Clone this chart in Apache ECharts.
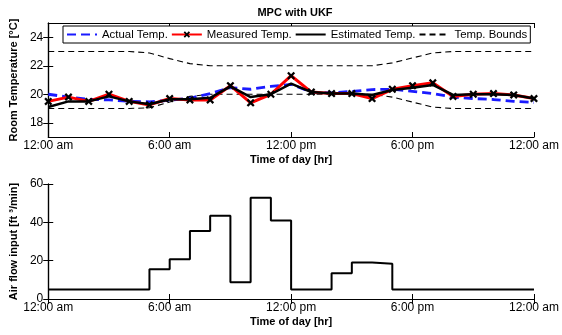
<!DOCTYPE html>
<html>
<head>
<meta charset="utf-8">
<script src="https://cdn.jsdelivr.net/npm/echarts@6/dist/echarts.min.js"></script>
<style>
  html, body { margin: 0; padding: 0; background: #fff; }
  #chart { width: 562px; height: 335px; }
</style>
</head>
<body>
<div id="chart"></div>
<script>
// hour of day, 0 = midnight
const hours = [0, 1, 2, 3, 4, 5, 6, 7, 8, 9, 10, 11, 12, 13, 14, 15, 16, 17, 18, 19, 20, 21, 22, 23, 24];
const timeTicks = [0, 6, 12, 18, 24];
const timeLabels = ["12:00 am", "6:00 am", "12:00 pm", "6:00 pm", "12:00 am"];

const actualTemp = [20.0, 19.8, 19.65, 19.6, 19.5, 19.47, 19.58, 19.72, 20.05, 20.47, 20.35, 20.55, 20.7,
  20.15, 20.1, 20.2, 20.33, 20.35, 20.2, 20.05, 19.8, 19.7, 19.63, 19.5, 19.42];
const measuredTemp = [19.5, 19.8, 19.5, 20.0, 19.5, 19.25, 19.7, 19.6, 19.6, 20.6, 19.4, 20.0, 21.3,
  20.15, 20.05, 20.05, 19.7, 20.35, 20.6, 20.8, 19.85, 20.0, 20.05, 19.95, 19.7];
const estimatedTemp = [19.1, 19.5, 19.5, 19.85, 19.5, 19.3, 19.65, 19.65, 19.75, 20.55, 19.8, 20.0, 20.75,
  20.15, 20.05, 20.05, 19.95, 20.3, 20.45, 20.65, 19.95, 20.0, 20.0, 19.95, 19.7];
const upperBound = [23, 23, 23, 23, 23, 22.9, 22.5, 22.15, 22, 22, 22, 22, 22,
  22, 22, 22, 22, 22.2, 22.55, 22.9, 23, 23, 23, 23, 23];
const lowerBound = [19, 19, 19, 19, 19, 19.05, 19.45, 19.85, 20, 20, 20, 20, 20,
  20, 20, 20, 20, 19.8, 19.45, 19.1, 19, 19, 19, 19, 19];
// air flow held over each hour [h, h+1), last value repeated to close the step at 24
const airFlow = [5, 5, 5, 5, 5, 15.5, 20.8, 35.5, 43.5, 8.8, 52.8, 41, 5,
  5, 13.5, 19, 18.4, 5, 5, 5, 5, 5, 5, 5, 5];

const tempTicks = [18, 20, 22, 24];
const flowTicks = [0, 20, 40, 60];

const font = "Liberation Sans, Arial, Helvetica, sans-serif";
const xMark = "path://M0,2L2,0L5,3L8,0L10,2L7,5L10,8L8,10L5,7L2,10L0,8L3,5Z";

const pairs = (vals) => hours.map((h, i) => [h, vals[i]]);

const timeLabel = (v) => {
  const i = timeTicks.indexOf(v);
  return i >= 0 ? timeLabels[i] : "";
};

function xAxes(gridIndex) {
  const base = {
    gridIndex: gridIndex,
    type: "value",
    min: 0,
    max: 24,
    interval: 6,
    axisLine: { show: true, lineStyle: { color: "#000", width: 1.2 } },
    axisTick: { show: true, inside: true, length: 5, lineStyle: { color: "#000" } },
    splitLine: { show: false },
  };
  return [
    Object.assign({}, base, {
      position: "bottom",
      name: "Time of day [hr]",
      nameLocation: "middle",
      nameGap: 17,
      nameTextStyle: { fontFamily: font, fontSize: 11, fontWeight: "bold", color: "#000" },
      axisLabel: { formatter: timeLabel, fontFamily: font, fontSize: 12, color: "#000", margin: 3, showMinLabel: true, showMaxLabel: true },
    }),
    Object.assign({}, base, { position: "top", axisLabel: { show: false } }),
  ];
}

function yAxes(gridIndex, min, max, ticks, name) {
  const base = {
    gridIndex: gridIndex,
    type: "value",
    min: min,
    max: max,
    axisLine: { show: true, lineStyle: { color: "#000", width: 1.2 } },
    axisTick: { show: true, inside: true, length: 5, customValues: ticks, lineStyle: { color: "#000" } },
    splitLine: { show: false },
  };
  return [
    Object.assign({}, base, {
      position: "left",
      name: name,
      nameLocation: "middle",
      nameGap: 23,
      nameTextStyle: { fontFamily: font, fontSize: 11, fontWeight: "bold", color: "#000" },
      axisLabel: { customValues: ticks, fontFamily: font, fontSize: 12, color: "#000", margin: 5 },
    }),
    Object.assign({}, base, { position: "right", axisLabel: { show: false } }),
  ];
}

const chart = echarts.init(document.getElementById("chart"));

const noMark = { opacity: 0 };

chart.setOption({
  animation: false,
  backgroundColor: "#fff",
  title: {
    text: "MPC with UKF",
    left: 290,
    textAlign: "center",
    top: 2,
    textStyle: { fontFamily: font, fontSize: 11, fontWeight: "bold", color: "#000" },
  },
  legend: {
    left: 63,
    top: 26,
    padding: [3, 3],
    itemGap: 3,
    itemWidth: 30,
    itemHeight: 8,
    borderColor: "#000",
    borderWidth: 1,
    backgroundColor: "#fff",
    textStyle: { fontFamily: font, fontSize: 11.4, color: "#000" },
    data: [
      { name: "Actual Temp.", itemStyle: noMark },
      { name: "Measured Temp." },
      { name: "Estimated Temp.", itemStyle: noMark },
      { name: "Temp. Bounds", itemStyle: noMark },
    ],
  },
  grid: [
    { left: 42, right: 25, top: 23, height: 114 },
    { left: 42, right: 25, top: 184, height: 115 },
  ],
  xAxis: xAxes(0).concat(xAxes(1)),
  yAxis: yAxes(0, 17, 25, tempTicks, "Room Temperature [°C]")
    .concat(yAxes(1, 0, 60, flowTicks, "Air flow input [ft ³/min]")),
  series: [
    {
      name: "Actual Temp.",
      type: "line",
      xAxisIndex: 0,
      yAxisIndex: 0,
      data: pairs(actualTemp),
      showSymbol: false,
      symbol: "none",
      z: 2,
      lineStyle: { color: "#1a1aff", width: 2.8, type: [9, 5] },
      itemStyle: { color: "#1a1aff" },
    },
    {
      name: "Measured Temp.",
      type: "line",
      xAxisIndex: 0,
      yAxisIndex: 0,
      data: pairs(measuredTemp),
      symbol: xMark,
      symbolSize: 8,
      z: 3,
      lineStyle: { color: "#ff0000", width: 3 },
      itemStyle: { color: "#000" },
    },
    {
      name: "Estimated Temp.",
      type: "line",
      xAxisIndex: 0,
      yAxisIndex: 0,
      data: pairs(estimatedTemp),
      symbol: "none",
      z: 4,
      lineStyle: { color: "#000", width: 2.5 },
      itemStyle: { color: "#000" },
    },
    {
      name: "Temp. Bounds",
      type: "line",
      xAxisIndex: 0,
      yAxisIndex: 0,
      data: pairs(upperBound),
      symbol: "none",
      z: 1,
      lineStyle: { color: "#000", width: 1.1, type: [6, 4] },
      itemStyle: { color: "#000" },
    },
    {
      name: "Temp. Bounds",
      type: "line",
      xAxisIndex: 0,
      yAxisIndex: 0,
      data: pairs(lowerBound),
      symbol: "none",
      z: 1,
      lineStyle: { color: "#000", width: 1.1, type: [6, 4] },
      itemStyle: { color: "#000" },
    },
    {
      name: "Air flow",
      type: "line",
      xAxisIndex: 2,
      yAxisIndex: 2,
      step: "end",
      data: pairs(airFlow),
      symbol: "none",
      lineStyle: { color: "#000", width: 2 },
    },
  ],
});
</script>
</body>
</html>
